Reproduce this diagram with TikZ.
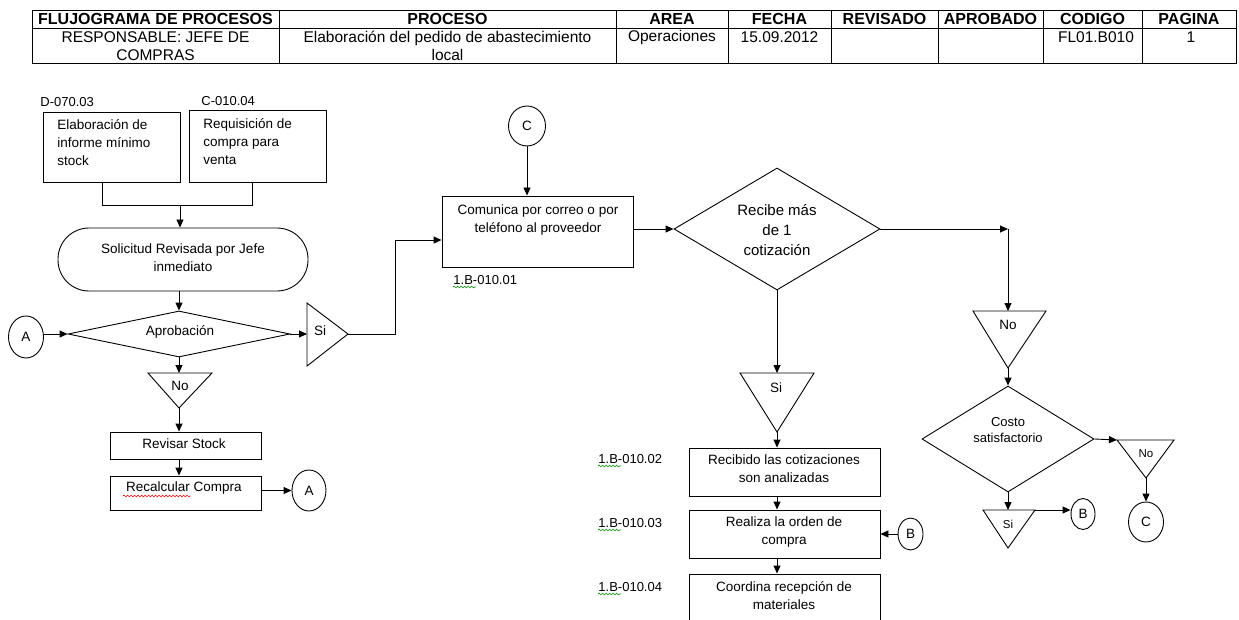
\documentclass[tikz,border=0pt]{standalone}
\usepackage{fontspec}
\setmainfont{Liberation Sans}
\usetikzlibrary{arrows.meta,shapes.geometric,decorations.pathmorphing}
\begin{document}
\begin{tikzpicture}[x=1pt,y=-1pt,line width=0.9pt,
  arr/.style={-{Triangle[length=8pt,width=7pt]}},
  hdr/.style={inner sep=0pt,font=\fontsize{16}{18}\selectfont\bfseries},
  cell/.style={inner sep=0pt,align=center,font=\fontsize{15.5}{18}\selectfont},
  txt/.style={inner sep=0pt,align=center,font=\fontsize{13.5}{18}\selectfont},
  txtl/.style={inner sep=0pt,align=left,font=\fontsize{13.5}{18}\selectfont},
  code/.style={inner sep=0pt,anchor=west,font=\fontsize{13}{15}\selectfont},
  proc/.style={draw,rectangle,inner sep=0pt},
  conn/.style={draw,ellipse,inner sep=0pt,font=\fontsize{13.5}{15}\selectfont},
  decision/.style={draw,diamond,inner sep=0pt},
  tri/.style={draw,line join=miter},
  wavy/.style={line width=0.6pt,decorate,decoration={snake,amplitude=0.9pt,segment length=3.5pt}},
]
\useasboundingbox (0,0) rectangle (1239,620);

% ---------- header table ----------
\draw (32,10) rectangle (1236,63);
\draw (32,28) -- (1236,28);
\foreach \cx in {279,616,728,831,938,1043,1142} \draw (\cx,10) -- (\cx,63);

\node[hdr] (h1) at (155.5,18.5) {FLUJOGRAMA DE PROCESOS};
\node[hdr] (h2) at (447.5,18.5) {PROCESO};
\node[hdr] (h3) at (672,18.5) {AREA};
\node[hdr] (h4) at (779.5,18.5) {FECHA};
\node[hdr] (h5) at (884.5,18.5) {REVISADO};
\node[hdr] (h6) at (990.5,18.5) {APROBADO};
\node[hdr] (h7) at (1092.5,18.5) {CODIGO};
\node[hdr] (h8) at (1189,18.5) {PAGINA};

\node[cell] (c1) at (155.5,46) {RESPONSABLE: JEFE DE\\COMPRAS};
\node[cell] (c2) at (447.5,46) {Elaboración del pedido de abastecimiento\\local};
\node[cell] (c3) at (672,37) {Operaciones};
\node[cell] (c4) at (779.5,37) {15.09.2012};
\node[cell] (c7) at (1096,37) {FL01.B010};
\node[cell] (c8) at (1191,37) {1};

% ---------- left column ----------
\node[code] (lbl1) at (40,102) {D-070.03};
\node[code] (lbl2) at (201,101) {C-010.04};

\node[proc,minimum width=137,minimum height=70] (box1) at (111.5,147) {};
\node[txtl,anchor=west] (box1T) at (57,143) {Elaboración de\\informe mínimo\\stock};
\node[proc,minimum width=137,minimum height=72] (box2) at (257.5,146) {};
\node[txtl,anchor=west] (box2T) at (203,142) {Requisición de\\compra para\\venta};

\coordinate (j1) at (102,205);
\coordinate (j2) at (252,205);
\coordinate (jm) at (180,205);

\node[draw,rectangle,rounded corners=31pt,minimum width=250,minimum height=63,inner sep=0pt] (solicitud) at (183,259.5) {};
\node[txt] (solicitudT) at (183,258) {Solicitud Revisada por Jefe\\inmediato};

\node[decision,minimum width=222,minimum height=46] (aprob) at (179,334) {};
\node[txt] (aprobT) at (180,332) {Aprobación};

\node[conn,minimum width=35,minimum height=42] (a1) at (26,337) {A};

\coordinate (noL-a) at (148,373);
\coordinate (noL-b) at (212,373);
\coordinate (noL-top) at (179,373);
\coordinate (noL-tip) at (179,408);
\draw[tri] (noL-a) -- (noL-b) -- (noL-tip) -- cycle;
\node[txt] (noLT) at (180,386) {No};

\node[proc,minimum width=151,minimum height=27] (revisar) at (185.5,445.5) {};
\node[txt] (revisarT) at (184,444) {Revisar Stock};
\node[proc,minimum width=151,minimum height=34] (recalc) at (185.5,493) {};
\node[txt] (recalcT) at (184,488) {Recalcular Compra};
\draw[wavy,red] (123,496) -- (190,496);

\node[conn,minimum width=34,minimum height=41] (a2) at (309,490.5) {A};

\coordinate (siL-u) at (307,303);
\coordinate (siL-d) at (307,366);
\coordinate (siL-left) at (307,334);
\coordinate (siL-tip) at (348,334);
\draw[tri] (siL-u) -- (siL-tip) -- (siL-d) -- cycle;
\node[txt] (siLT) at (320,331) {Si};
\coordinate (siRoute) at (395,240);

% ---------- middle column ----------
\node[conn,minimum width=37,minimum height=40] (cTop) at (527,126) {C};

\node[proc,minimum width=191,minimum height=71] (comunica) at (537.5,231.5) {};
\node[txt] (comunicaT) at (538,220) {Comunica por correo o por\\teléfono al proveedor};
\node[code] (lbl3) at (453,280) {1.B-010.01};
\draw[wavy,green!55!black] (453,287) -- (476,287);

\node[decision,minimum width=206,minimum height=122] (recibe) at (777,229) {};
\node[inner sep=0pt,align=center,font=\fontsize{15}{20}\selectfont] (recibeT) at (777,230) {Recibe más\\de 1\\cotización};

\coordinate (siM-a) at (740,373);
\coordinate (siM-b) at (814,373);
\coordinate (siM-top) at (777,373);
\coordinate (siM-tip) at (777,432);
\draw[tri] (siM-a) -- (siM-b) -- (siM-tip) -- cycle;
\node[txt] (siMT) at (776,388) {Si};

\node[proc,minimum width=191,minimum height=48] (recibido) at (784.5,472) {};
\node[txt] (recibidoT) at (784,469) {Recibido las cotizaciones\\son analizadas};
\node[proc,minimum width=191,minimum height=48] (realiza) at (784.5,534) {};
\node[txt] (realizaT) at (784,532) {Realiza la orden de\\compra};
\node[proc,minimum width=191,minimum height=70] (coordina) at (784.5,609) {};
\node[txt] (coordinaT) at (784,596) {Coordina recepción de\\materiales};

\node[code] (lbl4) at (598,459) {1.B-010.02};
\node[code] (lbl5) at (598,523) {1.B-010.03};
\node[code] (lbl6) at (598,587) {1.B-010.04};
\draw[wavy,green!55!black] (598,466) -- (621,466);
\draw[wavy,green!55!black] (598,530) -- (621,530);
\draw[wavy,green!55!black] (598,594) -- (621,594);

\node[conn,minimum width=25,minimum height=32] (bM) at (910.5,534) {B};

% ---------- right column ----------
\coordinate (cornerR) at (1008,229);
\coordinate (noR-a) at (973,311);
\coordinate (noR-b) at (1046,311);
\coordinate (noR-top) at (1008,311);
\coordinate (noR-tip) at (1008,368);
\draw[tri] (noR-a) -- (noR-b) -- (noR-tip) -- cycle;
\node[txt] (noRT) at (1008,325) {No};

\node[decision,minimum width=172,minimum height=106] (costo) at (1008,439) {};
\node[inner sep=0pt,align=center,font=\fontsize{13}{16.5}\selectfont] (costoT) at (1008,430) {Costo\\satisfactorio};

\coordinate (noS-a) at (1117,440);
\coordinate (noS-b) at (1174,440);
\coordinate (noS-tip) at (1146,478);
\draw[tri] (noS-a) -- (noS-b) -- (noS-tip) -- cycle;
\node[inner sep=0pt,font=\fontsize{11.5}{13}\selectfont] (noST) at (1146,454) {No};

\node[conn,minimum width=35,minimum height=40] (cR) at (1146,522) {C};

\coordinate (siS-a) at (983,510);
\coordinate (siS-b) at (1035,510);
\coordinate (siS-top) at (1008,510);
\coordinate (siS-tip) at (1008,548);
\draw[tri] (siS-a) -- (siS-b) -- (siS-tip) -- cycle;
\node[inner sep=0pt,font=\fontsize{11.5}{13}\selectfont] (siST) at (1008,524) {Si};

\node[conn,minimum width=24,minimum height=31] (bR) at (1083,514) {B};

% ---------- connectors ----------
\draw (box1.south -| j1) -- (j1) -- (j2) -- (box2.south -| j2);
\draw[arr] (jm) -- (solicitud.north -| jm);
\draw[arr] (solicitud.south -| aprob.north) -- (aprob.north);
\draw[arr] (a1.east |- aprob.west) -- (aprob.west);
\draw[arr] (aprob.east) -- (siL-left);
\draw[arr] (aprob.south) -- (noL-top);
\draw[arr] (noL-tip) -- (noL-tip |- revisar.north);
\draw[arr] (revisar.south -| noL-tip) -- (recalc.north -| noL-tip);
\draw[arr] (recalc.east |- a2.west) -- (a2.west);
\draw[arr] (siL-tip) -| (siRoute) -- (comunica.west |- siRoute);
\draw[arr] (cTop.south) -- (cTop.south |- comunica.north);
\draw[arr] (comunica.east |- recibe.west) -- (recibe.west);
\draw[arr] (recibe.east) -- (cornerR);
\draw[arr] (cornerR) -- (noR-top);
\draw[arr] (recibe.south) -- (siM-top);
\draw[arr] (siM-tip) -- (siM-tip |- recibido.north);
\draw[arr] (recibido.south -| siM-tip) -- (realiza.north -| siM-tip);
\draw[arr] (realiza.south -| siM-tip) -- (coordina.north -| siM-tip);
\draw[arr] (bM.west) -- (realiza.east |- bM.west);
\draw[arr] (noR-tip) -- (costo.north);
\draw[arr] (costo.east) -- (noS-a);
\draw[arr] (noS-tip) -- (cR.north);
\draw[arr] (costo.south) -- (siS-top);
\draw[arr] (siS-b) -- (siS-b -| bR.west);
\end{tikzpicture}
\end{document}
